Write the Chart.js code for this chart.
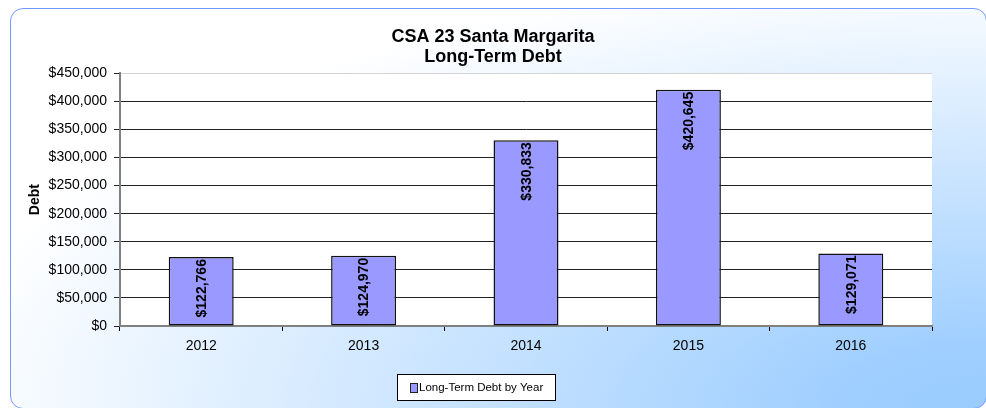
<!DOCTYPE html>
<html>
<head>
<meta charset="utf-8">
<script src="https://cdn.jsdelivr.net/npm/chart.js@4/dist/chart.umd.min.js"></script>
<style>
  html, body { margin: 0; padding: 0; overflow: hidden; width: 986px; height: 408px; background: #fff; }
  .frame {
    position: absolute; left: 10px; top: 8px; width: 977px; height: 401px;
    box-sizing: border-box;
    border: 1px solid #7399ff; border-radius: 13px;
    background: radial-gradient(ellipse 1050px 440px at 100% 100%, #99ccff 0%, #a0cfff 15%, #ffffff 100%);
  }
  #chart { position: absolute; left: 0; top: 0; }
</style>
</head>
<body>
<div class="frame"></div>
<canvas id="chart" width="986" height="408"></canvas>
<script>
// data
const years = ["2012", "2013", "2014", "2015", "2016"];
const debt = [122766, 124970, 330833, 420645, 129071];
const seriesName = "Long-Term Debt by Year";
const titleLines = ["CSA 23 Santa Margarita", "Long-Term Debt"];
const yTitle = "Debt";
const yMax = 450000;
const yStep = 50000;

const FONT = '"Liberation Sans", Arial, sans-serif';
Chart.defaults.font.family = FONT;
Chart.defaults.color = "#000";

function money(v) {
    return "$" + v.toLocaleString("en-US");
}

// white plot area behind the bars
const plotBackground = {
    id: "plotBackground",
    beforeDraw(chart) {
        const { ctx, chartArea: a } = chart;
        ctx.save();
        ctx.fillStyle = "#fff";
        ctx.fillRect(a.left, a.top, a.right - a.left, a.bottom - a.top);
        ctx.restore();
    }
};

// vertical value labels inside the top of each bar
const barLabels = {
    id: "barLabels",
    afterDatasetsDraw(chart) {
        const ctx = chart.ctx;
        const values = chart.data.datasets[0].data;
        ctx.save();
        ctx.font = "bold 14px " + FONT;
        ctx.fillStyle = "#000";
        ctx.textAlign = "right";
        ctx.textBaseline = "middle";
        chart.getDatasetMeta(0).data.forEach((bar, i) => {
            ctx.save();
            ctx.translate(bar.x + 1, bar.y + 2);
            ctx.rotate(-Math.PI / 2);
            ctx.fillText(money(values[i]), 0, 0);
            ctx.restore();
        });
        ctx.restore();
    }
};

// boxed legend under the axis
const boxLegend = {
    id: "boxLegend",
    afterDraw(chart) {
        const ctx = chart.ctx;
        const ds = chart.data.datasets[0];
        ctx.save();
        ctx.fillStyle = "#fff";
        ctx.fillRect(397, 374, 159, 27);
        ctx.strokeStyle = "#000";
        ctx.lineWidth = 1;
        ctx.strokeRect(397.5, 374.5, 158, 26);
        ctx.fillStyle = ds.backgroundColor;
        ctx.fillRect(411, 384, 6, 8);
        ctx.strokeStyle = "#222";
        ctx.strokeRect(410.5, 383.5, 7, 9);
        ctx.fillStyle = "#000";
        ctx.font = "11.5px " + FONT;
        ctx.textAlign = "left";
        ctx.textBaseline = "middle";
        ctx.fillText(ds.label, 419, 388);
        ctx.restore();
    }
};

new Chart(document.getElementById("chart"), {
    type: "bar",
    data: {
        labels: years,
        datasets: [{
            label: seriesName,
            data: debt,
            backgroundColor: "#9999ff",
            borderColor: "#111",
            borderWidth: 1.5,
            borderSkipped: false,
            barPercentage: 0.4,
            categoryPercentage: 1
        }]
    },
    options: {
        responsive: false,
        animation: false,
        layout: { padding: { top: 0, left: 0, right: 0, bottom: 52 } },
        plugins: {
            legend: { display: false },
            tooltip: { enabled: false },
            title: {
                display: true,
                text: titleLines,
                color: "#000",
                font: { size: 18, weight: "bold", lineHeight: 1.12 },
                padding: { top: 27, bottom: 6 }
            }
        },
        scales: {
            x: {
                grid: { display: true, drawOnChartArea: false, drawTicks: true, tickLength: 5, color: "#000" },
                border: { display: true, color: "#808080", width: 2 },
                ticks: { font: { size: 14 }, color: "#000", padding: 7 },
                afterFit: s => { s.height = 30; }
            },
            y: {
                min: 0,
                max: yMax,
                grid: {
                    color: c => (c.tick && c.tick.value === yMax) ? "#d4d4d4" : (c.tick && c.tick.value === 0 ? "#808080" : "#222"),
                    tickColor: "#222",
                    tickLength: 6
                },
                border: { display: true, color: "#808080", width: 2 },
                ticks: {
                    stepSize: yStep,
                    font: { size: 14 },
                    color: "#000",
                    padding: 7,
                    callback: v => money(v)
                },
                title: {
                    display: true,
                    text: yTitle,
                    color: "#000",
                    font: { size: 14, weight: "bold" },
                    padding: { top: 27, bottom: 0 }
                },
                afterFit: s => { s.width = 120; }
            },
            // empty right-hand spacer so the plot ends where the original does
            spacer: {
                type: "linear",
                position: "right",
                grid: { display: false },
                border: { display: false },
                ticks: { display: false },
                afterFit: s => { s.width = 54; }
            }
        }
    },
    plugins: [plotBackground, barLabels, boxLegend]
});
</script>
</body>
</html>
